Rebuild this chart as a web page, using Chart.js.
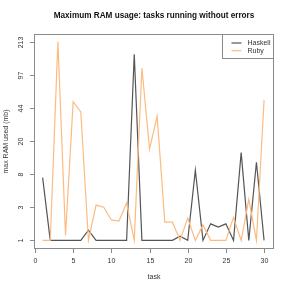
<!DOCTYPE html>
<html>
<head>
<meta charset="utf-8">
<script src="https://cdn.jsdelivr.net/npm/chart.js@4"></script>
<style>
  html, body { margin: 0; padding: 0; background: #fff; }
  #wrap { width: 291px; height: 291px; }
</style>
</head>
<body>
<div id="wrap"><canvas id="ram" width="291" height="291"></canvas></div>
<script>
// tasks and max RAM used (mb)
var tasks   = [1,2,3,4,5,6,7,8,9,10,11,12,13,14,15,16,17,18,19,20,21,22,23,24,25,26,27,28,29,30];
var haskell = [7.2,1,1,1,1,1,1.4,1,1,1,1,1,158,1,1,1,1,1,1.15,1,8.9,1,1.73,1.55,1.73,1,14.5,1,11.1,1];
var ruby    = [1,1,213,1.18,51,40,1,3.2,3,1.97,1.9,3.4,1,114,16,36,1.83,1.83,1,2.1,1,1.67,1,1,1,2.15,1,3.8,1,53];
var yTicks  = [1,3,8,20,44,97,213];
var xTicks  = [0,5,10,15,20,25,30];
var seriesNames  = ['Haskell','Ruby'];
var seriesColors = ['#555555','#fdbb80'];

// the y axis of the original puts its labelled values at even steps,
// log-interpolated between them
function toPos(v) {
	for (var i = 0; i < yTicks.length - 1; i++) {
		if (v <= yTicks[i + 1] || i == yTicks.length - 2) {
			return i + Math.log(v / yTicks[i]) / Math.log(yTicks[i + 1] / yTicks[i]);
		}
	}
}

function points(vals) {
	return tasks.map(function (t, i) { return { x: t, y: toPos(vals[i]) }; });
}

var frame = {
	id: 'frame',
	afterDraw: function (chart) {
		var ctx = chart.ctx, a = chart.chartArea;
		var xs = chart.scales.x, ys = chart.scales.y;
		ctx.save();
		ctx.strokeStyle = '#8a8a8a';
		ctx.lineWidth = 1;
		ctx.strokeRect(a.left + 0.5, a.top + 0.5, a.right - a.left - 1, a.bottom - a.top - 1);

		ctx.fillStyle = '#333';
		ctx.font = '7px "Liberation Sans", Arial, sans-serif';
		// x ticks
		ctx.textAlign = 'center';
		ctx.textBaseline = 'top';
		xTicks.forEach(function (t) {
			var px = Math.round(xs.getPixelForValue(t)) + 0.5;
			ctx.beginPath();
			ctx.moveTo(px, a.bottom);
			ctx.lineTo(px, a.bottom + 4);
			ctx.stroke();
			ctx.fillText(String(t), px, a.bottom + 9);
		});
		// y ticks, labels parallel to the axis
		yTicks.forEach(function (t, i) {
			var py = Math.round(ys.getPixelForValue(i)) + 0.5;
			ctx.beginPath();
			ctx.moveTo(a.left - 4, py);
			ctx.lineTo(a.left, py);
			ctx.stroke();
			ctx.save();
			ctx.translate(a.left - 9, py);
			ctx.rotate(-Math.PI / 2);
			ctx.textBaseline = 'bottom';
			ctx.fillText(String(t), 0, 0);
			ctx.restore();
		});

		// axis titles
		ctx.fillText('task', (a.left + a.right) / 2, a.bottom + 25);
		ctx.save();
		ctx.translate(10, (a.top + a.bottom) / 2);
		ctx.rotate(-Math.PI / 2);
		ctx.textBaseline = 'bottom';
		ctx.fillText('max RAM used (mb)', 0, 0);
		ctx.restore();

		// main title
		ctx.fillStyle = '#111';
		ctx.font = 'bold 8.2px "Liberation Sans", Arial, sans-serif';
		ctx.textBaseline = 'middle';
		ctx.fillText('Maximum RAM usage: tasks running without errors', (a.left + a.right) / 2, 16);

		// legend
		var lx = 222.5, ly = a.top + 0.5, lw = a.right - 0.5 - lx, lh = 24;
		ctx.fillStyle = '#fff';
		ctx.fillRect(lx, ly, lw, lh);
		ctx.strokeStyle = '#8a8a8a';
		ctx.strokeRect(lx, ly, lw, lh);
		ctx.font = '7px "Liberation Sans", Arial, sans-serif';
		ctx.textAlign = 'left';
		seriesNames.forEach(function (name, i) {
			var yy = ly + 8.5 + i * 7.7;
			ctx.strokeStyle = seriesColors[i];
			ctx.lineWidth = 1.2;
			ctx.beginPath();
			ctx.moveTo(lx + 9, yy);
			ctx.lineTo(lx + 19, yy);
			ctx.stroke();
			ctx.fillStyle = '#333';
			ctx.fillText(name, lx + 25, yy);
		});
		ctx.restore();
	}
};

var ctx = document.getElementById('ram').getContext('2d');
var chart = new Chart(ctx, {
	type: 'line',
	data: {
		datasets: [
			{ label: seriesNames[0], data: points(haskell), borderColor: seriesColors[0], borderWidth: 1.2, pointRadius: 0, tension: 0, order: 1 },
			{ label: seriesNames[1], data: points(ruby), borderColor: seriesColors[1], borderWidth: 1.2, pointRadius: 0, tension: 0, order: 0 }
		]
	},
	options: {
		responsive: false,
		devicePixelRatio: 1,
		animation: false,
		layout: { padding: { left: 34, top: 34, right: 17, bottom: 42 } },
		plugins: { legend: { display: false }, title: { display: false }, tooltip: { enabled: false } },
		scales: {
			x: { type: 'linear', min: -0.13, max: 31.3, display: false },
			y: { type: 'linear', min: -0.26, max: 6.23, display: false }
		}
	},
	plugins: [frame]
});
</script>
</body>
</html>
